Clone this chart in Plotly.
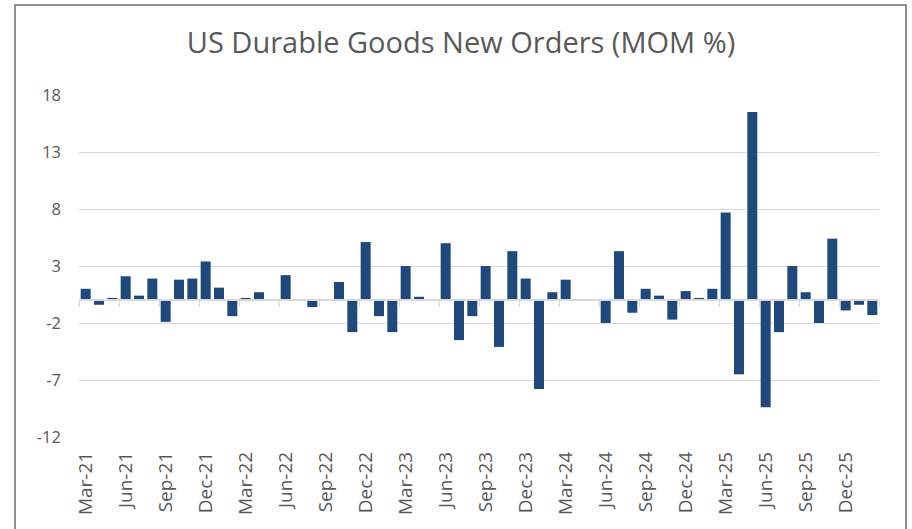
import plotly.graph_objects as go

months = [
    "Mar-21", "Apr-21", "May-21", "Jun-21", "Jul-21", "Aug-21", "Sep-21", "Oct-21", "Nov-21", "Dec-21",
    "Jan-22", "Feb-22", "Mar-22", "Apr-22", "May-22", "Jun-22", "Jul-22", "Aug-22", "Sep-22", "Oct-22", "Nov-22", "Dec-22",
    "Jan-23", "Feb-23", "Mar-23", "Apr-23", "May-23", "Jun-23", "Jul-23", "Aug-23", "Sep-23", "Oct-23", "Nov-23", "Dec-23",
    "Jan-24", "Feb-24", "Mar-24", "Apr-24", "May-24", "Jun-24", "Jul-24", "Aug-24", "Sep-24", "Oct-24", "Nov-24", "Dec-24",
    "Jan-25", "Feb-25", "Mar-25", "Apr-25", "May-25", "Jun-25", "Jul-25", "Aug-25", "Sep-25", "Oct-25", "Nov-25", "Dec-25",
    "Jan-26", "Feb-26",
]

mom_pct = [
    1.0, -0.4, 0.2, 2.1, 0.4, 1.9, -1.9, 1.8, 1.9, 3.4,
    1.1, -1.4, 0.2, 0.7, 0.0, 2.2, 0.0, -0.6, 0.0, 1.6, -2.8, 5.1,
    -1.4, -2.8, 3.0, 0.3, 0.0, 5.0, -3.5, -1.4, 3.0, -4.1, 4.3, 1.9,
    -7.8, 0.7, 1.8, 0.0, 0.0, -2.0, 4.3, -1.1, 1.0, 0.4, -1.7, 0.8,
    0.2, 1.0, 7.7, -6.5, 16.5, -9.4, -2.8, 3.0, 0.7, -2.0, 5.4, -0.9,
    -0.4, -1.3,
]

y_ticks = [-12, -7, -2, 3, 8, 13, 18]
y_tick_labels = [str(v) for v in y_ticks]
title_text = "US Durable Goods New Orders (MOM %)"

Y_MIN, Y_MAX = -12, 18
FONT = "Open Sans"
GREY_TXT = "#595959"
GRID = "#d9d9d9"
BAR = "#1F497D"

fig = go.Figure()
fig.add_trace(go.Bar(
    x=months, y=mom_pct, marker=dict(color=BAR, line=dict(width=0)),
    xaxis="x", yaxis="y", hoverinfo="x+y",
))
# invisible helper trace so the zero-crossing category axis has categories
fig.add_trace(go.Scatter(
    x=months, y=mom_pct, mode="markers", marker=dict(opacity=0, size=1),
    xaxis="x2", yaxis="y", hoverinfo="skip", showlegend=False,
))

n = len(months)
zero_pos = (0 - Y_MIN) / (Y_MAX - Y_MIN)

fig.update_layout(
    width=912, height=529,
    margin=dict(l=79, r=33, t=95, b=92),
    paper_bgcolor="white", plot_bgcolor="white",
    showlegend=False,
    bargap=0.25,
    title=dict(
        text=title_text, font=dict(family=FONT, size=29, color=GREY_TXT),
        xref="container", x=461 / 912, xanchor="center",
        yref="container", y=1 - 43 / 529, yanchor="middle",
    ),
    xaxis=dict(
        type="category", categoryorder="array", categoryarray=months,
        range=[-0.5, n - 0.5], tickmode="linear", tick0=0, dtick=3,
        tickangle=-90, ticks="", showgrid=False, showline=False, zeroline=False,
        tickfont=dict(family=FONT, size=19, color=GREY_TXT),
        ticklabelstandoff=10,
    ),
    xaxis2=dict(
        type="category", categoryorder="array", categoryarray=months,
        overlaying="x", anchor="free", position=zero_pos, side="bottom",
        range=[-0.5, n - 0.5], tickmode="linear", tick0=0, dtick=3,
        tickson="boundaries", ticks="outside", ticklen=6, tickwidth=1, tickcolor=GRID,
        showticklabels=False, showgrid=False, showline=True, linecolor=GRID, linewidth=1.5,
        zeroline=False,
    ),
    yaxis=dict(
        range=[Y_MIN, Y_MAX], tickmode="array", tickvals=y_ticks, ticktext=y_tick_labels,
        showgrid=True, gridcolor=GRID, gridwidth=1.3, zeroline=False, showline=False,
        ticks="", tickfont=dict(family=FONT, size=16.5, color=GREY_TXT),
        ticklabelstandoff=17,
    ),
    shapes=[dict(
        type="rect", xref="paper", yref="paper",
        x0=(15 - 79) / 800, x1=(906 - 79) / 800,
        y0=-0.5, y1=(437 - 5) / 342,
        line=dict(color="#6e6e6e", width=1.5), fillcolor="rgba(0,0,0,0)", layer="below",
    )],
)

fig.write_html(
    "out.html",
    config={"displayModeBar": False},
    post_script="document.body.style.margin='0';",
)
